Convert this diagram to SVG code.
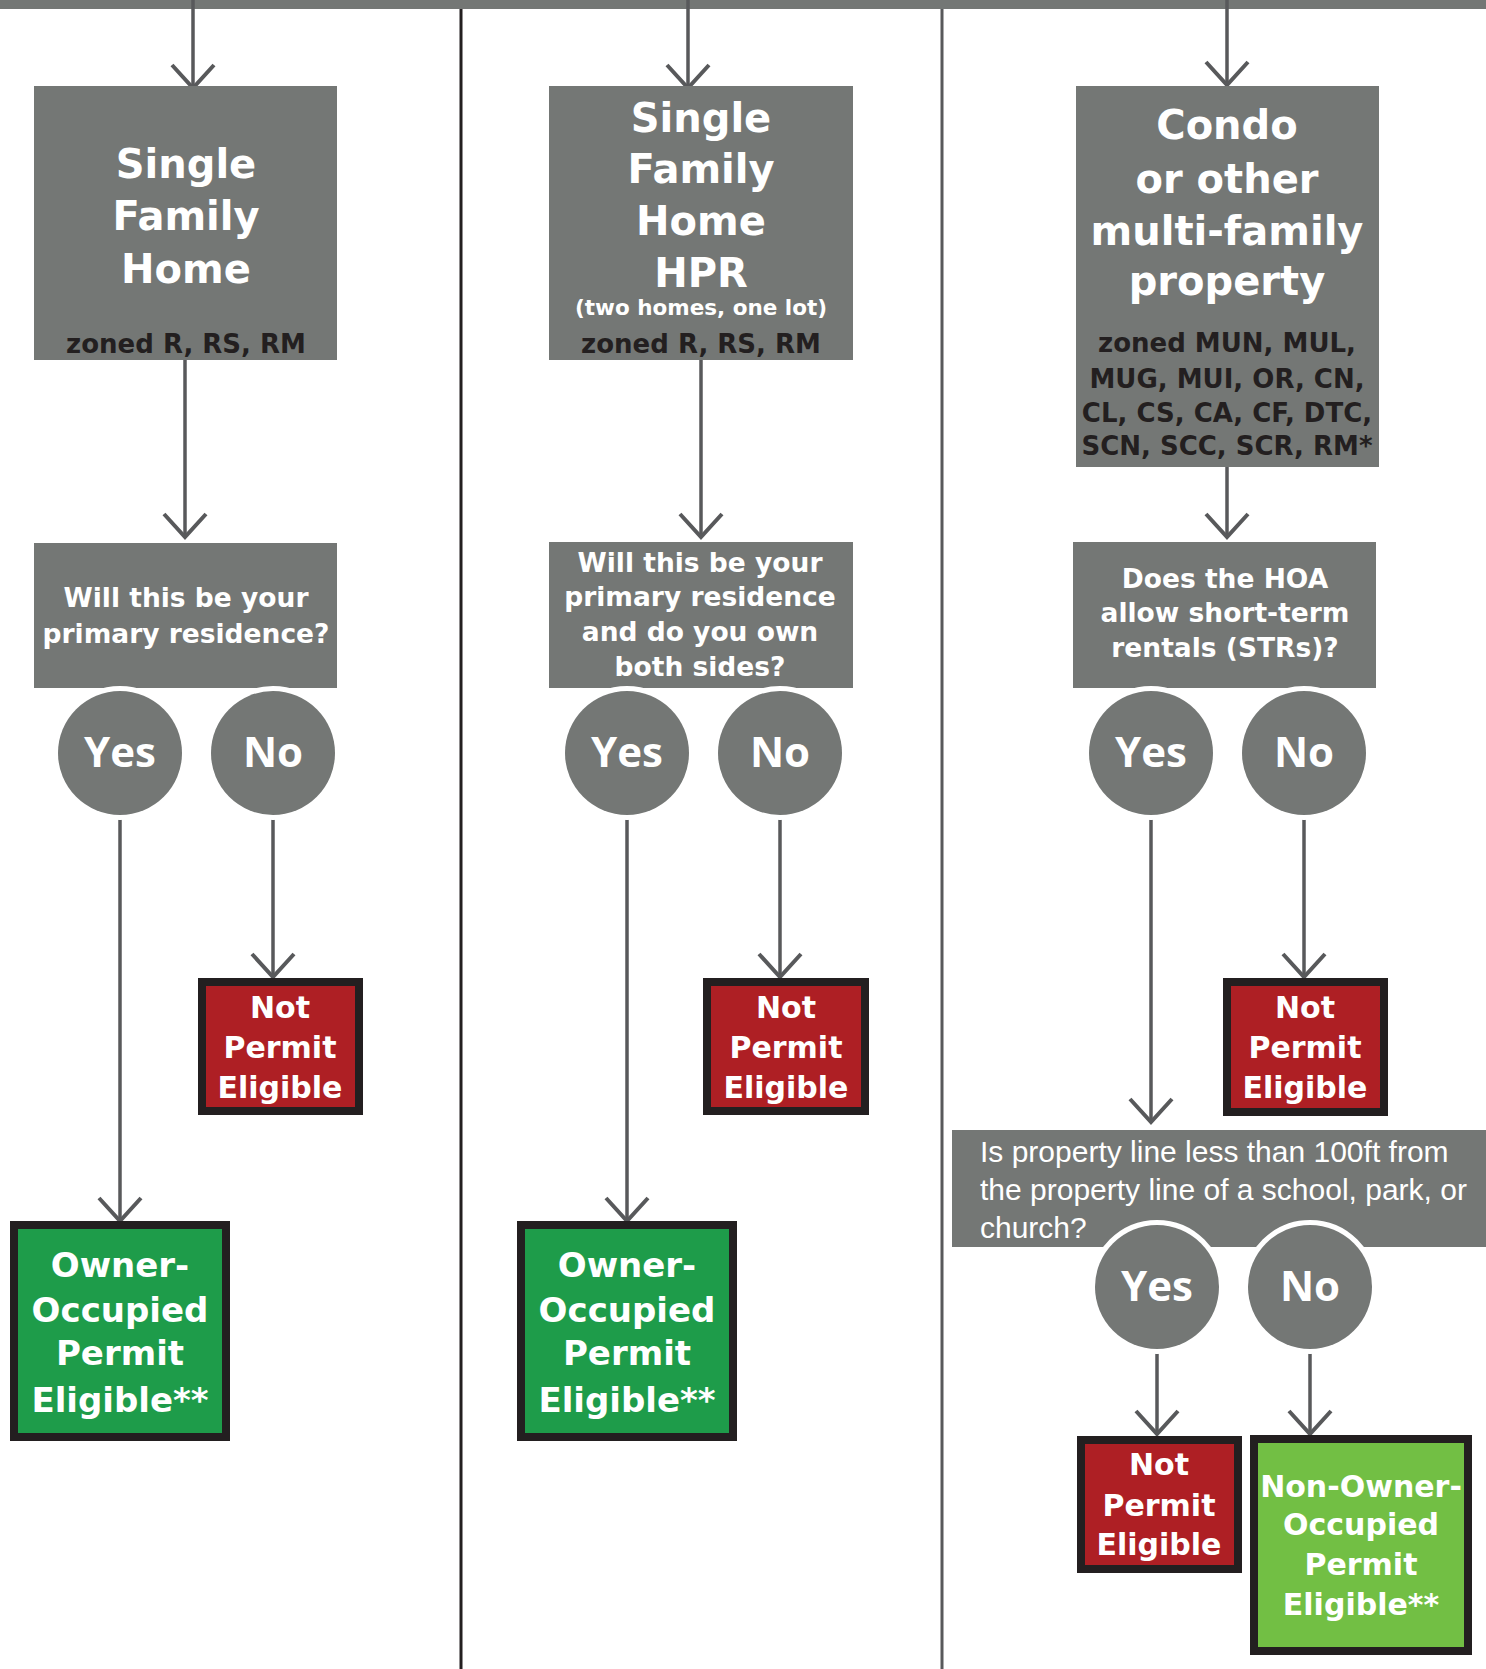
<svg xmlns="http://www.w3.org/2000/svg" width="1486" height="1669" viewBox="0 0 1486 1669">
<style>
.box{fill:#747775;}
.t{font-family:"DejaVu Sans","Open Sans",sans-serif;font-weight:700;fill:#ffffff;text-anchor:middle;}
.title{font-size:40px;}
.zone{font-size:26px;fill:#231f20;}
.q{font-size:26.5px;}
.yn{font-family:"Open Sans","DejaVu Sans",sans-serif;font-size:42px;}
.res{font-size:30px;}
.res2{font-size:34px;}
.circ{fill:#747775;stroke:#ffffff;stroke-width:10;paint-order:stroke;}
.red{fill:#ae1f24;stroke:#231f20;stroke-width:8;}
.green{fill:#1e9c4a;stroke:#231f20;stroke-width:8;}
.lgreen{fill:#72bf44;stroke:#231f20;stroke-width:8;}
.c{stroke:#58595b;stroke-width:3.5;fill:none;marker-end:url(#chev);}
.reg{font-family:"Liberation Sans",Arial,sans-serif;font-size:30px;fill:#ffffff;}
</style>
<defs>
<marker id="chev" markerUnits="userSpaceOnUse" markerWidth="60" markerHeight="60" refX="0" refY="0" orient="auto" overflow="visible" viewBox="-30 -30 60 60">
<path d="M-23,-21 L0,0 L-23,21" fill="none" stroke="#58595b" stroke-width="4"/>
</marker>
</defs>
<rect width="1486" height="1669" fill="#ffffff"/>
<g id="frame">
<rect x="0" y="0" width="1486" height="9" fill="#747775"/>
<line x1="461" y1="9" x2="461" y2="1669" stroke="#231f20" stroke-width="3"/>
<line x1="942" y1="9" x2="942" y2="1669" stroke="#58595b" stroke-width="3"/>
</g>
<g id="connectors">
<line class="c" x1="193" y1="0" x2="193" y2="88"/>
<line class="c" x1="185" y1="360" x2="185" y2="537"/>
<line class="c" x1="120" y1="815" x2="120" y2="1221"/>
<line class="c" x1="273" y1="815" x2="273" y2="977"/>
<line class="c" x1="688" y1="0" x2="688" y2="88"/>
<line class="c" x1="701" y1="360" x2="701" y2="537"/>
<line class="c" x1="627" y1="815" x2="627" y2="1221"/>
<line class="c" x1="780" y1="815" x2="780" y2="977"/>
<line class="c" x1="1227" y1="0" x2="1227" y2="85"/>
<line class="c" x1="1227" y1="467" x2="1227" y2="537"/>
<line class="c" x1="1151" y1="815" x2="1151" y2="1122"/>
<line class="c" x1="1304" y1="815" x2="1304" y2="977"/>
<line class="c" x1="1157" y1="1349" x2="1157" y2="1434"/>
<line class="c" x1="1310" y1="1349" x2="1310" y2="1434"/>
</g>
<g id="sfh">
<rect class="box" x="34" y="86" width="303" height="274"/>
<text class="t title" x="186" y="178">Single</text>
<text class="t title" x="186" y="230">Family</text>
<text class="t title" x="186" y="283">Home</text>
<text class="t zone" x="186" y="353">zoned R, RS, RM</text>
</g>
<g id="q1">
<rect class="box" x="34" y="543" width="303" height="145"/>
<text class="t q" x="186" y="607">Will this be your</text>
<text class="t q" x="186" y="643">primary residence?</text>
</g>
<g id="q1-yes"><circle class="circ" cx="120" cy="753" r="62"/><text class="t yn" x="120" y="767">Yes</text></g>
<g id="q1-no"><circle class="circ" cx="273" cy="753" r="62"/><text class="t yn" x="273" y="767">No</text></g>
<g id="r1">
<rect class="red" x="202" y="982" width="157" height="129"/>
<text class="t res" x="280" y="1018">Not</text>
<text class="t res" x="280" y="1058">Permit</text>
<text class="t res" x="280" y="1098">Eligible</text>
</g>
<g id="g1">
<rect class="green" x="14" y="1225" width="212" height="212"/>
<text class="t res2" x="120" y="1277">Owner-</text>
<text class="t res2" x="120" y="1322">Occupied</text>
<text class="t res2" x="120" y="1365">Permit</text>
<text class="t res2" x="120" y="1412">Eligible**</text>
</g>
<g id="hpr">
<rect class="box" x="549" y="86" width="304" height="274"/>
<text class="t title" x="701" y="132">Single</text>
<text class="t title" x="701" y="183">Family</text>
<text class="t title" x="701" y="235">Home</text>
<text class="t title" x="701" y="287">HPR</text>
<text class="t" x="701" y="315" font-size="21.5">(two homes, one lot)</text>
<text class="t zone" x="701" y="353">zoned R, RS, RM</text>
</g>
<g id="q2">
<rect class="box" x="549" y="542" width="304" height="146"/>
<text class="t q" x="700" y="572">Will this be your</text>
<text class="t q" x="700" y="606">primary residence</text>
<text class="t q" x="700" y="641">and do you own</text>
<text class="t q" x="700" y="676">both sides?</text>
</g>
<g id="q2-yes"><circle class="circ" cx="627" cy="753" r="62"/><text class="t yn" x="627" y="767">Yes</text></g>
<g id="q2-no"><circle class="circ" cx="780" cy="753" r="62"/><text class="t yn" x="780" y="767">No</text></g>
<g id="r2">
<rect class="red" x="707" y="982" width="158" height="129"/>
<text class="t res" x="786" y="1018">Not</text>
<text class="t res" x="786" y="1058">Permit</text>
<text class="t res" x="786" y="1098">Eligible</text>
</g>
<g id="g2">
<rect class="green" x="521" y="1225" width="212" height="212"/>
<text class="t res2" x="627" y="1277">Owner-</text>
<text class="t res2" x="627" y="1322">Occupied</text>
<text class="t res2" x="627" y="1365">Permit</text>
<text class="t res2" x="627" y="1412">Eligible**</text>
</g>
<g id="condo">
<rect class="box" x="1076" y="86" width="303" height="381"/>
<text class="t title" x="1227" y="139">Condo</text>
<text class="t title" x="1227" y="193">or other</text>
<text class="t title" x="1227" y="245">multi-family</text>
<text class="t title" x="1227" y="295">property</text>
<text class="t zone" x="1227" y="352">zoned MUN, MUL,</text>
<text class="t zone" x="1227" y="388">MUG, MUI, OR, CN,</text>
<text class="t zone" x="1227" y="422">CL, CS, CA, CF, DTC,</text>
<text class="t zone" x="1227" y="455">SCN, SCC, SCR, RM*</text>
</g>
<g id="q3">
<rect class="box" x="1073" y="542" width="303" height="146"/>
<text class="t q" x="1225" y="588">Does the HOA</text>
<text class="t q" x="1225" y="622">allow short-term</text>
<text class="t q" x="1225" y="657">rentals (STRs)?</text>
</g>
<g id="q3-yes"><circle class="circ" cx="1151" cy="753" r="62"/><text class="t yn" x="1151" y="767">Yes</text></g>
<g id="q3-no"><circle class="circ" cx="1304" cy="753" r="62"/><text class="t yn" x="1304" y="767">No</text></g>
<g id="r3">
<rect class="red" x="1227" y="982" width="157" height="130"/>
<text class="t res" x="1305" y="1018">Not</text>
<text class="t res" x="1305" y="1058">Permit</text>
<text class="t res" x="1305" y="1098">Eligible</text>
</g>
<g id="q4">
<rect class="box" x="952" y="1130" width="534" height="117"/>
<text class="reg" x="980" y="1162">Is property line less than 100ft from</text>
<text class="reg" x="980" y="1200">the property line of a school, park, or</text>
<text class="reg" x="980" y="1238">church?</text>
</g>
<g id="q4-yes"><circle class="circ" cx="1157" cy="1287" r="62"/><text class="t yn" x="1157" y="1301">Yes</text></g>
<g id="q4-no"><circle class="circ" cx="1310" cy="1287" r="62"/><text class="t yn" x="1310" y="1301">No</text></g>
<g id="r4">
<rect class="red" x="1081" y="1440" width="157" height="129"/>
<text class="t res" x="1159" y="1475">Not</text>
<text class="t res" x="1159" y="1516">Permit</text>
<text class="t res" x="1159" y="1555">Eligible</text>
</g>
<g id="g4">
<rect class="lgreen" x="1254" y="1439" width="214" height="212"/>
<text class="t res" x="1361" y="1497">Non-Owner-</text>
<text class="t res" x="1361" y="1535">Occupied</text>
<text class="t res" x="1361" y="1575">Permit</text>
<text class="t res" x="1361" y="1615">Eligible**</text>
</g>
</svg>
